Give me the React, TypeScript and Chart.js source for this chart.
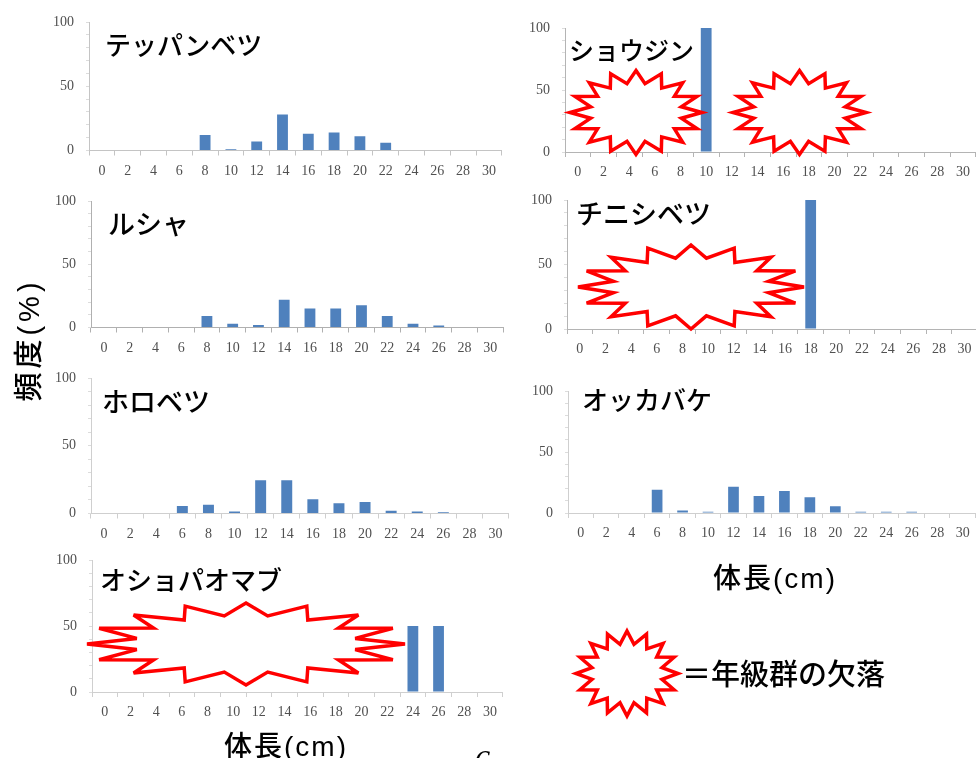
import React, { useEffect, useRef } from "react";
import { Chart, registerables } from "chart.js";

Chart.register(...registerables);

// Body-length classes (cm) shared by every site
const lengthClasses = ["0", "2", "4", "6", "8", "10", "12", "14", "16", "18", "20", "22", "24", "26", "28", "30"];

// Frequency (%) per length class at each site
const teppanbetsu = [0, 0, 0, 0, 12, 1, 7, 28, 13, 14, 11, 6, 0, 0, 0, 0];
const shoujin = [0, 0, 0, 0, 0, 100, 0, 0, 0, 0, 0, 0, 0, 0, 0, 0];
const rusha = [0, 0, 0, 0, 9, 3, 2, 22, 15, 15, 17.5, 9, 3, 1.5, 0, 0];
const chinishibetsu = [0, 0, 0, 0, 0, 0, 0, 0, 0, 100, 0, 0, 0, 0, 0, 0];
const horobetsu = [0, 0, 0, 5.5, 6.5, 1.5, 24.5, 24.5, 10.5, 7.5, 8.5, 2, 1.5, 1, 0, 0];
const okkabake = [0, 0, 0, 19, 2, 1, 21.5, 14, 18, 13, 5.5, 1, 1, 1, 0, 0];
const oshopaomabu = [0, 0, 0, 0, 0, 0, 0, 0, 0, 0, 0, 0, 50, 50, 0, 0];

const INK = "#000";
const BAR_BLUE = "#4f81bd";
const GUTTER_LEFT = 60;
const GUTTER_TOP = 10;
const GUTTER_RIGHT = 4;
const GUTTER_BOTTOM = 36;

type Panel = {
  title: string;
  values: number[];
  left: number;
  top: number;
  bottom: number;
  step: number;
  axisColor: string;
  titleX: number;
  titleY: number;
  titleSize: number;
};

const panels: Panel[] = [
  { title: "テッパンベツ", values: teppanbetsu, left: 89, top: 22, bottom: 150.5, step: 25.8, axisColor: "#c4c4c4", titleX: 105, titleY: 44, titleSize: 26 },
  { title: "ショウジン", values: shoujin, left: 565, top: 27.5, bottom: 151.5, step: 25.67, axisColor: "#b4b4b4", titleX: 569, titleY: 49, titleSize: 25 },
  { title: "ルシャ", values: rusha, left: 91, top: 201, bottom: 327.5, step: 25.76, axisColor: "#b0b0b0", titleX: 108, titleY: 222, titleSize: 27 },
  { title: "チニシベツ", values: chinishibetsu, left: 567, top: 199.5, bottom: 328.5, step: 25.65, axisColor: "#b4b4b4", titleX: 576, titleY: 212, titleSize: 27 },
  { title: "ホロベツ", values: horobetsu, left: 91, top: 378, bottom: 513.5, step: 26.1, axisColor: "#cfcfcf", titleX: 102, titleY: 400, titleSize: 27 },
  { title: "オッカバケ", values: okkabake, left: 568, top: 390.5, bottom: 512.5, step: 25.46, axisColor: "#cfcfcf", titleX: 582, titleY: 399, titleSize: 26 },
  { title: "オショパオマブ", values: oshopaomabu, left: 92, top: 559.5, bottom: 691.5, step: 25.67, axisColor: "#cfcfcf", titleX: 100, titleY: 579, titleSize: 26 },
];

// Burst call-outs marking absent year classes: centre and radii
const bursts = [
  { cx: 636, cy: 112.5, rx: 66, ry: 42 },
  { cx: 799.5, cy: 112.5, rx: 66.5, ry: 42 },
  { cx: 691, cy: 287, rx: 113, ry: 42 },
  { cx: 246, cy: 644, rx: 159, ry: 41 },
  { cx: 627, cy: 673.5, rx: 51, ry: 42.5 },
];

const captions = [
  { text: "体長(cm)", x: 713, y: 579, size: 28, tracking: 2 },
  { text: "体長(cm)", x: 224, y: 747, size: 28, tracking: 2 },
  { text: "＝年級群の欠落", x: 682, y: 675, size: 29, tracking: 0 },
];

function burstPoints(cx: number, cy: number, rx: number, ry: number): string {
  const pts: string[] = [];
  for (let k = 0; k < 32; k++) {
    const a = (k * Math.PI) / 16;
    const r = k % 2 === 0 ? 1 : 0.7;
    pts.push(`${(cx + rx * r * Math.sin(a)).toFixed(1)},${(cy - ry * r * Math.cos(a)).toFixed(1)}`);
  }
  return pts.join(" ");
}

function FrequencyPanel({ panel }: { panel: Panel }) {
  const ref = useRef<HTMLCanvasElement>(null);
  const plotW = panel.step * lengthClasses.length;
  const plotH = panel.bottom - panel.top;
  const width = Math.round(GUTTER_LEFT + plotW + GUTTER_RIGHT);
  const height = Math.round(GUTTER_TOP + plotH + GUTTER_BOTTOM);

  useEffect(() => {
    const chart = new Chart(ref.current!, {
      type: "bar",
      data: {
        labels: lengthClasses,
        datasets: [{ data: panel.values, backgroundColor: BAR_BLUE, barPercentage: 0.42, categoryPercentage: 1 }],
      },
      options: {
        responsive: false,
        animation: false,
        events: [],
        layout: { padding: { top: GUTTER_TOP, right: width - GUTTER_LEFT - plotW, left: 0, bottom: 0 } },
        plugins: { legend: { display: false }, tooltip: { enabled: false } },
        scales: {
          x: {
            offset: true,
            afterFit: (s: any) => {
              s.height = height - GUTTER_TOP - plotH;
              s.paddingLeft = 0;
              s.paddingRight = 0;
            },
            border: { color: panel.axisColor, width: 1 },
            grid: { drawOnChartArea: false, drawTicks: true, tickLength: 5, offset: true, color: panel.axisColor },
            ticks: {
              autoSkip: false, maxRotation: 0, padding: 7, color: "#505050",
              font: { family: "'Liberation Serif'", size: 14 },
            },
          },
          y: {
            min: 0,
            max: 100,
            afterFit: (s: any) => {
              s.width = GUTTER_LEFT;
              s.paddingTop = 0;
              s.paddingBottom = 0;
            },
            border: { color: panel.axisColor, width: 1 },
            grid: { drawOnChartArea: false, drawTicks: true, tickLength: 3, color: "#dcdcdc" },
            ticks: {
              stepSize: 10, autoSkip: false, padding: 12, color: "#505050",
              font: { family: "'Liberation Serif'", size: 14 },
              callback: (v: any) => (v % 50 === 0 ? String(v) : ""),
            },
          },
        },
      },
    });
    return () => chart.destroy();
  }, []);

  return (
    <canvas
      ref={ref}
      width={width}
      height={height}
      style={{ position: "absolute", left: panel.left - GUTTER_LEFT, top: Math.round(panel.top - GUTTER_TOP), width, height }}
    />
  );
}

const cjk = "'Noto Sans CJK JP', sans-serif";
const latinFirst = "'Liberation Sans', 'Noto Sans CJK JP', sans-serif";

export default function App() {
  return (
    <div style={{ position: "absolute", left: 0, top: 0, width: 976, height: 758, overflow: "hidden", background: "#fff" }}>
      {panels.map((p) => <FrequencyPanel key={p.title} panel={p} />)}
      <svg width={976} height={758} style={{ position: "absolute", left: 0, top: 0 }}>
        {bursts.map((b, i) => (
          <polygon key={i} points={burstPoints(b.cx, b.cy, b.rx, b.ry)} fill="#fff" stroke="#ff0000" strokeWidth={3.5} strokeLinejoin="miter" />
        ))}
      </svg>
      {panels.map((p) => (
        <div key={p.title} style={{ position: "absolute", left: p.titleX, top: p.titleY, transform: "translateY(-50%)", font: `500 ${p.titleSize}px/1 ${cjk}`, color: INK, whiteSpace: "nowrap" }}>
          {p.title}
        </div>
      ))}
      {captions.map((c) => (
        <div key={c.text + c.x} style={{ position: "absolute", left: c.x, top: c.y, transform: "translateY(-50%)", font: `500 ${c.size}px/1 ${latinFirst}`, letterSpacing: c.tracking, color: INK, whiteSpace: "nowrap" }}>
          {c.text}
        </div>
      ))}
      <div style={{ position: "absolute", left: 29, top: 340, transform: "translate(-50%,-50%) rotate(-90deg)", font: `500 29px/1 ${latinFirst}`, letterSpacing: 4, color: INK, whiteSpace: "nowrap" }}>
        頻度(%)
      </div>
      <div style={{ position: "absolute", left: 474, top: 745, font: "italic 32px/1 'Liberation Serif'", color: INK }}>6</div>
    </div>
  );
}
